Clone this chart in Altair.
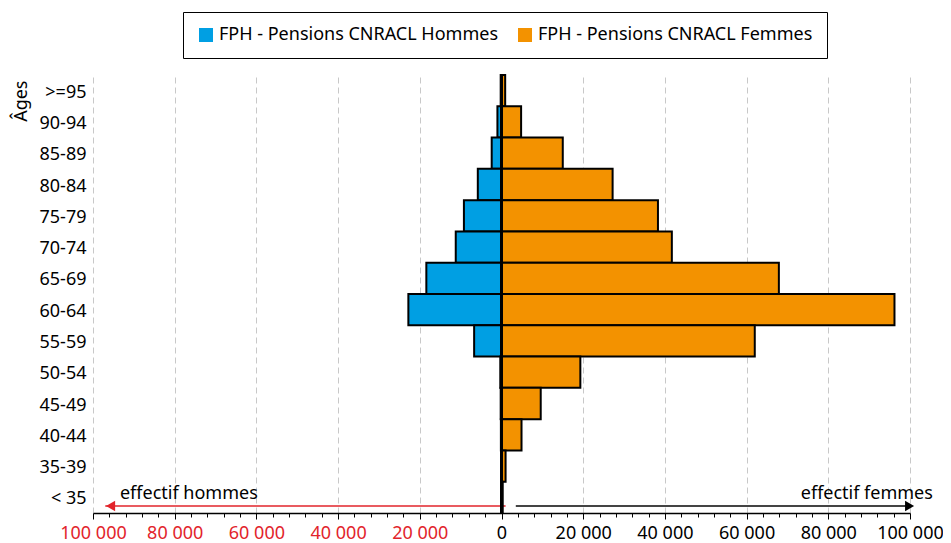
import altair as alt
import pandas as pd

FONT = "Noto Sans"
BLUE = "#009FE3"
ORANGE = "#F39200"
RED = "#E2242B"
FS = 18

ages = [">=95", "90-94", "85-89", "80-84", "75-79", "70-74", "65-69",
        "60-64", "55-59", "50-54", "45-49", "40-44", "35-39", "< 35"]
hommes = [200, 1000, 2400, 5800, 9200, 11200, 18400, 22800, 6700, 300, 200, 150, 100, 100]
femmes = [900, 4800, 15000, 27200, 38300, 41700, 67900, 96200, 62000, 19300, 9600, 4900, 1000, 300]

lab_h = "FPH - Pensions CNRACL Hommes"
lab_f = "FPH - Pensions CNRACL Femmes"

rows = []
for a, h, f in zip(ages, hommes, femmes):
    rows.append({"age": a, "serie": lab_h, "value": -h})
    rows.append({"age": a, "serie": lab_f, "value": f})
df = pd.DataFrame(rows)

tick_values = list(range(-100000, 100001, 4000))

xscale = alt.Scale(domain=[-100000, 100000], nice=False, zero=False)

bars = alt.Chart(df).mark_bar(stroke="black", strokeWidth=2).encode(
    y=alt.Y("age:N", sort=ages,
            scale=alt.Scale(paddingInner=0, paddingOuter=0),
            axis=alt.Axis(title="Âges", titleAngle=270, titleX=-67, titleY=5,
                          titleAlign="right", titleBaseline="alphabetic",
                          titleFont=FONT, titleFontSize=FS, titleFontWeight="normal",
                          titleColor="black",
                          labelFont=FONT, labelFontSize=FS, labelColor="black",
                          labelPadding=7, labelOffset=2, ticks=False, domain=False, grid=False)),
    x=alt.X("value:Q", scale=xscale, stack=None,
            axis=alt.Axis(title=None, values=tick_values, tickCount=200,
                          labelExpr="datum.value % 20000 == 0 ? (datum.value == 0 ? '0' : format(abs(datum.value)/1000, 'd') + ' 000') : ''",
                          labelOverlap=False, labelFlush=False,
                          labelFont=FONT, labelFontSize=FS,
                          labelColor=alt.condition("datum.value < 0", alt.value(RED), alt.value("black")),
                          labelPadding=5,
                          tickColor="black", tickWidth=1,
                          tickSize=alt.condition("datum.value % 20000 == 0", alt.value(6), alt.value(4)),
                          domainColor="black", domainWidth=1.5,
                          grid=True, gridColor="#c8c8c8", gridDash=[6, 4], gridWidth=1,
                          gridOpacity=alt.condition("datum.value % 20000 == 0 && datum.value != 0",
                                                    alt.value(1), alt.value(0)))),
    color=alt.Color("serie:N",
                    scale=alt.Scale(domain=[lab_h, lab_f], range=[BLUE, ORANGE]),
                    legend=alt.Legend(title=None, orient="none", legendX=90, legendY=-63,
                                      direction="horizontal", symbolType="square",
                                      symbolSize=196, symbolStrokeWidth=0, symbolOpacity=1,
                                      labelFont=FONT, labelFontSize=FS, labelColor="black",
                                      labelLimit=400, labelOffset=4, columnPadding=17,
                                      strokeColor="black", fillColor="white", padding=14)),
)

one = pd.DataFrame({"k": [0]})

red_line = alt.Chart(one).mark_rule(color=RED, strokeWidth=1.5).encode(
    x=alt.datum(1000, scale=xscale), x2=alt.datum(-97000), y=alt.value(431))
red_head = alt.Chart(one).mark_point(shape="triangle-left", filled=True, size=110,
                                     color=RED, opacity=1).encode(
    x=alt.datum(-95700), y=alt.value(431))
zero_rule = alt.Chart(one).mark_rule(color="black", strokeWidth=3).encode(
    x=alt.datum(0))
gray_line = alt.Chart(one).mark_rule(color="#444444", strokeWidth=2).encode(
    x=alt.datum(3500), x2=alt.datum(99000), y=alt.value(431))
gray_head = alt.Chart(one).mark_point(shape="triangle-right", filled=True, size=110,
                                      color="black", opacity=1).encode(
    x=alt.datum(99900), y=alt.value(431))
txt_h = alt.Chart(one).mark_text(align="left", baseline="alphabetic", font=FONT,
                                 fontSize=FS, color="black").encode(
    x=alt.datum(-93400), y=alt.value(424), text=alt.value("effectif hommes"))
txt_f = alt.Chart(one).mark_text(align="right", baseline="alphabetic", font=FONT,
                                 fontSize=FS, color="black").encode(
    x=alt.datum(105600), y=alt.value(424), text=alt.value("effectif femmes"))

chart = alt.layer(red_line, red_head, bars, zero_rule, gray_line, gray_head, txt_h, txt_f).properties(
    width=817, height=438,
    padding={"left": 85, "top": 67, "right": 33, "bottom": 30},
    autosize=alt.AutoSizeParams(type="none"),
).configure_view(stroke=None)

chart.save("out.html", embed_options={"renderer": "svg", "actions": False})
